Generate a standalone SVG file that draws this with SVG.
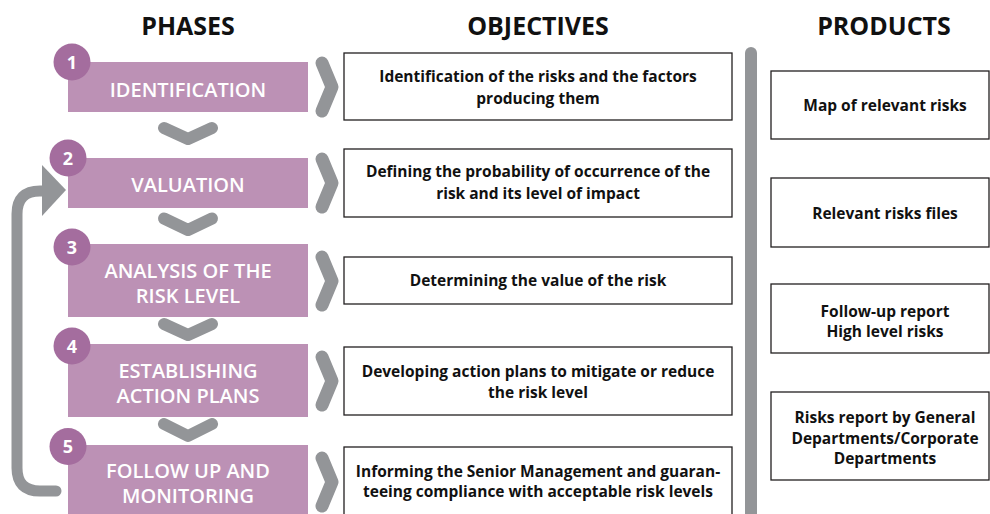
<svg xmlns="http://www.w3.org/2000/svg" width="990" height="514" viewBox="0 0 990 514">
  <defs>
    <style>
      .head { font-family: "Open Sans", "Liberation Sans", sans-serif; font-weight: 700; font-size: 25px; fill: #111; text-anchor: middle; }
      .phase rect { fill: #bc91b5; }
      .phase circle { fill: #a46d9e; }
      .num { font-family: "Open Sans", "Liberation Sans", sans-serif; font-weight: 700; font-size: 18px; fill: #fff; text-anchor: middle; }
      .plabel { font-family: "Open Sans", "Liberation Sans", sans-serif; font-weight: 600; font-size: 20px; fill: #fff; text-anchor: middle; }
      .box rect { fill: #fff; stroke: #231f20; stroke-width: 1.3; }
      .btext { font-family: "Open Sans", "Liberation Sans", sans-serif; font-weight: 700; font-size: 15.5px; fill: #111; text-anchor: middle; }
      .chev { fill: none; stroke: #939598; stroke-width: 13; stroke-linecap: round; stroke-linejoin: round; }
      .down { fill: none; stroke: #939598; stroke-width: 12; stroke-linecap: round; stroke-linejoin: round; }
      .loop { fill: none; stroke: #939598; stroke-width: 11; stroke-linecap: round; }
    </style>
  </defs>

  <rect width="990" height="514" fill="#fff"/>

  <!-- column headings -->
  <text class="head" x="188" y="35">PHASES</text>
  <text class="head" x="538" y="35">OBJECTIVES</text>
  <text class="head" x="884" y="35">PRODUCTS</text>

  <!-- divider between objectives and products -->
  <rect x="745" y="47" width="12" height="480" rx="6" fill="#939598"/>

  <!-- phases -->
  <g id="phase1" class="phase">
    <rect x="68" y="62" width="240" height="50"/>
    <circle cx="72" cy="62" r="18.5"/>
    <text class="num" x="72" y="68.5">1</text>
    <text class="plabel" x="188" y="97">IDENTIFICATION</text>
  </g>
  <g id="phase2" class="phase">
    <rect x="68" y="158" width="240" height="50"/>
    <circle cx="68" cy="158" r="18.5"/>
    <text class="num" x="68" y="164.5">2</text>
    <text class="plabel" x="188" y="192">VALUATION</text>
  </g>
  <g id="phase3" class="phase">
    <rect x="68" y="244" width="240" height="73"/>
    <circle cx="72" cy="247" r="18.5"/>
    <text class="num" x="72" y="253.5">3</text>
    <text class="plabel" x="188" y="278">ANALYSIS OF THE</text>
    <text class="plabel" x="188" y="303">RISK LEVEL</text>
  </g>
  <g id="phase4" class="phase">
    <rect x="68" y="344" width="240" height="73"/>
    <circle cx="72" cy="346" r="18.5"/>
    <text class="num" x="72" y="352.5">4</text>
    <text class="plabel" x="188" y="377.5">ESTABLISHING</text>
    <text class="plabel" x="188" y="402.5">ACTION PLANS</text>
  </g>
  <g id="phase5" class="phase">
    <rect x="68" y="445" width="240" height="75"/>
    <circle cx="68" cy="446.5" r="18.5"/>
    <text class="num" x="68" y="453">5</text>
    <text class="plabel" x="188" y="477.5">FOLLOW UP AND</text>
    <text class="plabel" x="188" y="502.5">MONITORING</text>
  </g>

  <!-- objectives -->
  <g id="objective1" class="box">
    <rect x="344" y="53" width="388" height="67"/>
    <text class="btext" x="538" y="82">Identification of the risks and the factors</text>
    <text class="btext" x="538" y="104">producing them</text>
  </g>
  <g id="objective2" class="box">
    <rect x="344" y="149" width="388" height="68"/>
    <text class="btext" x="538" y="177">Defining the probability of occurrence of the</text>
    <text class="btext" x="538" y="199">risk and its level of impact</text>
  </g>
  <g id="objective3" class="box">
    <rect x="344" y="257" width="388" height="47"/>
    <text class="btext" x="538" y="286">Determining the value of the risk</text>
  </g>
  <g id="objective4" class="box">
    <rect x="344" y="347" width="388" height="68"/>
    <text class="btext" x="538" y="377">Developing action plans to mitigate or reduce</text>
    <text class="btext" x="538" y="398">the risk level</text>
  </g>
  <g id="objective5" class="box">
    <rect x="344" y="447" width="388" height="75"/>
    <text class="btext" x="538" y="477">Informing the Senior Management and guaran-</text>
    <text class="btext" x="538" y="497">teeing compliance with acceptable risk levels</text>
  </g>

  <!-- products -->
  <g id="product1" class="box">
    <rect x="771" y="71" width="218" height="68"/>
    <text class="btext" x="885" y="111">Map of relevant risks</text>
  </g>
  <g id="product2" class="box">
    <rect x="771" y="178" width="218" height="69"/>
    <text class="btext" x="885" y="219">Relevant risks files</text>
  </g>
  <g id="product3" class="box">
    <rect x="771" y="284" width="218" height="69"/>
    <text class="btext" x="885" y="317">Follow-up report</text>
    <text class="btext" x="885" y="337">High level risks</text>
  </g>
  <g id="product4" class="box">
    <rect x="771" y="392" width="218" height="88"/>
    <text class="btext" x="885" y="423">Risks report by General</text>
    <text class="btext" x="885" y="444">Departments/Corporate</text>
    <text class="btext" x="885" y="464">Departments</text>
  </g>

  <!-- connectors -->
  <g id="connectors">
    <!-- phase to objective -->
    <polyline class="chev" points="322,63 332,87 322,111"/>
    <polyline class="chev" points="322,159 332,183 322,207"/>
    <polyline class="chev" points="322,257 332,281 322,305"/>
    <polyline class="chev" points="322,357 332,381 322,405"/>
    <polyline class="chev" points="322,458 332,482 322,506"/>
    <!-- phase to next phase -->
    <polyline class="down" points="164,128 188,139 212,128"/>
    <polyline class="down" points="164,218.5 188,230 212,218.5"/>
    <polyline class="down" points="164,324 188,335 212,324"/>
    <polyline class="down" points="164,424 188,436 212,424"/>
    <!-- feedback loop from follow up back to valuation -->
    <path class="loop" d="M56 491 H40 Q17 491 17 468 V214 Q17 191 40 191 H46"/>
    <polygon points="42,165 66,190 42,216" fill="#939598"/>
  </g>
</svg>
